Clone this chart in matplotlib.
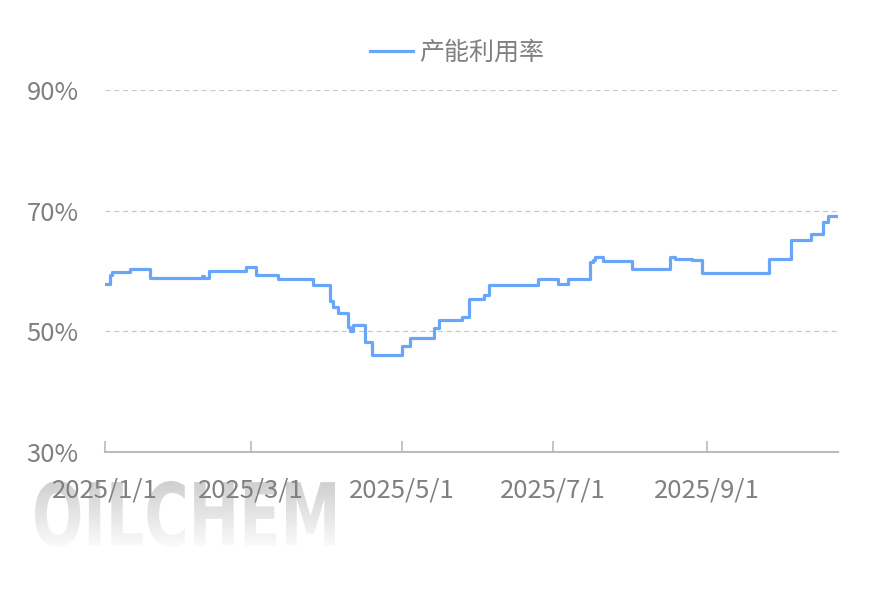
import matplotlib
matplotlib.use('Agg')
import matplotlib.pyplot as plt
import numpy as np
import pandas as pd
from matplotlib.textpath import TextPath
from matplotlib.patches import PathPatch
from matplotlib.font_manager import FontProperties
from matplotlib.transforms import Affine2D

plt.rcParams['font.family'] = ['Noto Sans CJK SC', 'DejaVu Sans']

# change points of the utilisation rate (%), value holds until next date
change_dates = [
    '2025-01-01', '2025-01-03', '2025-01-04', '2025-01-11', '2025-01-19',
    '2025-02-09', '2025-02-10', '2025-02-12', '2025-02-27', '2025-03-03',
    '2025-03-12', '2025-03-26', '2025-04-02', '2025-04-03', '2025-04-05',
    '2025-04-09', '2025-04-10', '2025-04-11', '2025-04-16', '2025-04-19',
    '2025-05-01', '2025-05-04', '2025-05-14', '2025-05-16', '2025-05-25',
    '2025-05-28', '2025-06-03', '2025-06-05', '2025-06-25', '2025-07-03',
    '2025-07-07', '2025-07-16', '2025-07-17', '2025-07-18', '2025-07-21',
    '2025-08-02', '2025-08-17', '2025-08-19', '2025-08-26', '2025-08-30',
    '2025-09-26', '2025-10-05', '2025-10-13', '2025-10-18', '2025-10-20',
    '2025-10-24',
]
rate = [
    57.8, 59.4, 59.8, 60.3, 58.8,
    59.2, 58.8, 60.0, 60.6, 59.3,
    58.7, 57.6, 55.1, 54.0, 53.1,
    50.8, 50.1, 51.0, 48.3, 46.0,
    47.5, 48.9, 50.5, 51.9, 52.4,
    55.3, 56.0, 57.6, 58.6, 57.9,
    58.7, 61.5, 61.8, 62.4, 61.6,
    60.3, 62.4, 62.0, 61.8, 59.6,
    62.0, 65.2, 66.1, 68.1, 69.1,
    69.1,
]
tick_dates = ['2025-01-01', '2025-03-01', '2025-05-01', '2025-07-01', '2025-09-01']
tick_labels = ['2025/1/1', '2025/3/1', '2025/5/1', '2025/7/1', '2025/9/1']
y_ticks = [30, 50, 70, 90]

dates = pd.to_datetime(change_dates)
grey = '#808080'
line_color = '#6AA6F8'

fig = plt.figure(figsize=(8.85, 5.91), dpi=100)
ax = fig.add_axes([105 / 885, 1 - 452 / 591, (838 - 105) / 885, (452 - 90) / 591])
ax.set_facecolor('none')

ax.plot(dates, rate, drawstyle='steps-post', color=line_color, lw=2.3,
        label='产能利用率', solid_joinstyle='round')

ax.set_xlim(pd.Timestamp('2025-01-01'), pd.Timestamp('2025-10-24'))
ax.set_ylim(30, 90)
ax.set_yticks(y_ticks)
ax.set_yticklabels([f'{v}%' for v in y_ticks])
ax.set_xticks(pd.to_datetime(tick_dates))
ax.set_xticklabels(tick_labels)

for s in ['left', 'right', 'top']:
    ax.spines[s].set_visible(False)
ax.spines['bottom'].set_color('#bbbbbb')
ax.spines['bottom'].set_linewidth(1.5)

ax.tick_params(axis='x', direction='in', length=8, width=1.2, color='#bbbbbb',
               labelsize=18.5, labelcolor=grey, pad=18)
ax.tick_params(axis='y', length=0, labelsize=18.5, labelcolor=grey, pad=19)

for v in y_ticks[1:]:
    ax.axhline(v, color='#c8c8c8', lw=0.9, ls=(0, (4, 3)), zorder=0)

leg = fig.legend(loc='center', bbox_to_anchor=(457 / 885, 1 - 53 / 591),
                 frameon=False, fontsize=18, handlelength=1.7, handletextpad=0.25)
for t in leg.get_texts():
    t.set_color(grey)

# watermark with vertical gradient, squeezed to the reference box
wax = fig.add_axes([0, 0, 1, 1], zorder=-1)
wax.set_xlim(0, 885)
wax.set_ylim(0, 591)
wax.axis('off')
fp = FontProperties(family='DejaVu Sans', weight='bold')
tp = TextPath((0, 0), 'OILCHEM', size=90, prop=fp)
b0 = tp.get_extents()
x0, x1, y0, y1 = 35, 335, 591 - 547, 591 - 481
tf = (Affine2D().translate(-b0.x0, -b0.y0)
      .scale((x1 - x0) / b0.width, (y1 - y0) / b0.height)
      .translate(x0, y0))
tp = tf.transform_path(tp)
patch = PathPatch(tp, transform=wax.transData, facecolor='none', edgecolor='none')
wax.add_patch(patch)
grad = np.linspace(0.81, 0.98, 64).reshape(-1, 1)
im = wax.imshow(grad, cmap='gray', vmin=0, vmax=1, aspect='auto',
                extent=[x0, x1, y0, y1], origin='upper')
im.set_clip_path(patch)

fig.savefig('out.png', dpi=100)
